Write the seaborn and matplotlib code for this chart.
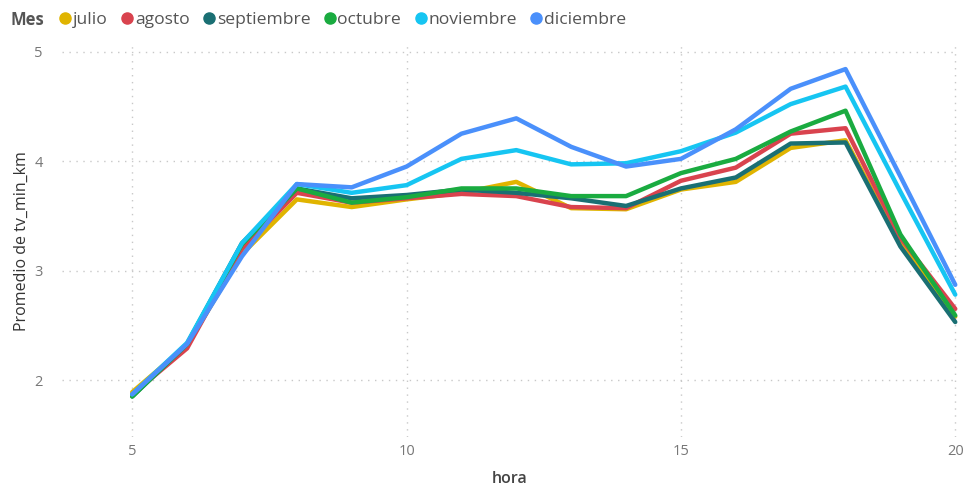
import matplotlib
matplotlib.use("Agg")
import matplotlib.pyplot as plt
import seaborn as sns
import pandas as pd
from matplotlib.lines import Line2D

hours = list(range(5, 21))
months = ["julio", "agosto", "septiembre", "octubre", "noviembre", "diciembre"]
colors = ["#E0B400", "#D9434E", "#1A6F73", "#1AAB40", "#16C5F2", "#4A90FB"]

julio      = [1.89, 2.32, 3.15, 3.65, 3.58, 3.65, 3.71, 3.81, 3.57, 3.56, 3.74, 3.81, 4.12, 4.19, 3.25, 2.58]
agosto     = [1.87, 2.29, 3.20, 3.71, 3.62, 3.66, 3.70, 3.68, 3.58, 3.57, 3.82, 3.94, 4.25, 4.30, 3.30, 2.65]
septiembre = [1.85, 2.33, 3.25, 3.75, 3.66, 3.69, 3.74, 3.71, 3.66, 3.59, 3.75, 3.85, 4.16, 4.17, 3.22, 2.53]
octubre    = [1.85, 2.33, 3.24, 3.75, 3.62, 3.67, 3.75, 3.75, 3.68, 3.68, 3.89, 4.02, 4.27, 4.46, 3.33, 2.59]
noviembre  = [1.87, 2.34, 3.25, 3.79, 3.71, 3.78, 4.02, 4.10, 3.97, 3.98, 4.09, 4.26, 4.52, 4.68, 3.72, 2.78]
diciembre  = [1.87, 2.33, 3.13, 3.79, 3.76, 3.95, 4.25, 4.39, 4.13, 3.95, 4.02, 4.29, 4.66, 4.84, 3.86, 2.87]

series = [julio, agosto, septiembre, octubre, noviembre, diciembre]
rows = []
for m, vals in zip(months, series):
    for h, v in zip(hours, vals):
        rows.append({"hora": h, "Mes": m, "valor": v})
df = pd.DataFrame(rows)

sns.set_style("white")
plt.rcParams["font.family"] = ["Open Sans", "DejaVu Sans"]

W, H = 969, 492
fig = plt.figure(figsize=(W / 100, H / 100), dpi=100)
ax = fig.add_axes([62 / W, 1 - 437 / H, (958 - 62) / W, (437 - 45) / H])

palette = dict(zip(months, colors))
sns.lineplot(data=df, x="hora", y="valor", hue="Mes", hue_order=months,
             palette=palette, linewidth=3.2, ax=ax, legend=False)

ax.set_xlim(3.72, 20.05)
ax.set_ylim(1.48, 5.06)
ax.set_xticks([5, 10, 15, 20])
ax.set_yticks([2, 3, 4, 5])
ax.grid(True, color="#C8C8C8", linestyle=(0, (1, 4)), linewidth=1.0)
for s in ax.spines.values():
    s.set_visible(False)
ax.tick_params(length=0, labelsize=10.5, colors="#777777")
ax.tick_params(axis="y", pad=14)
ax.tick_params(axis="x", pad=5)
ax.set_xlabel("hora", fontsize=11.5, color="#444444", fontweight="semibold", labelpad=9)
ax.set_ylabel("Promedio de tv_min_km", fontsize=11.5, color="#333333", labelpad=3)

fig.text(10 / W, 1 - 20 / H, "Mes", fontsize=12, fontweight="bold", color="#555555",
         va="center", ha="left")
handles = [Line2D([0], [0], marker="o", linestyle="none", markersize=8,
                  markerfacecolor=c, markeredgecolor=c) for c in colors]
fig.legend(handles, months, loc="center left", bbox_to_anchor=(60 / W, 1 - 20 / H),
           ncol=6, frameon=False, handletextpad=0.15, columnspacing=0.8,
           borderaxespad=0, borderpad=0, handlelength=0.6,
           prop={"size": 12.6}, labelcolor="#555555")

fig.savefig("out.png", dpi=100)
